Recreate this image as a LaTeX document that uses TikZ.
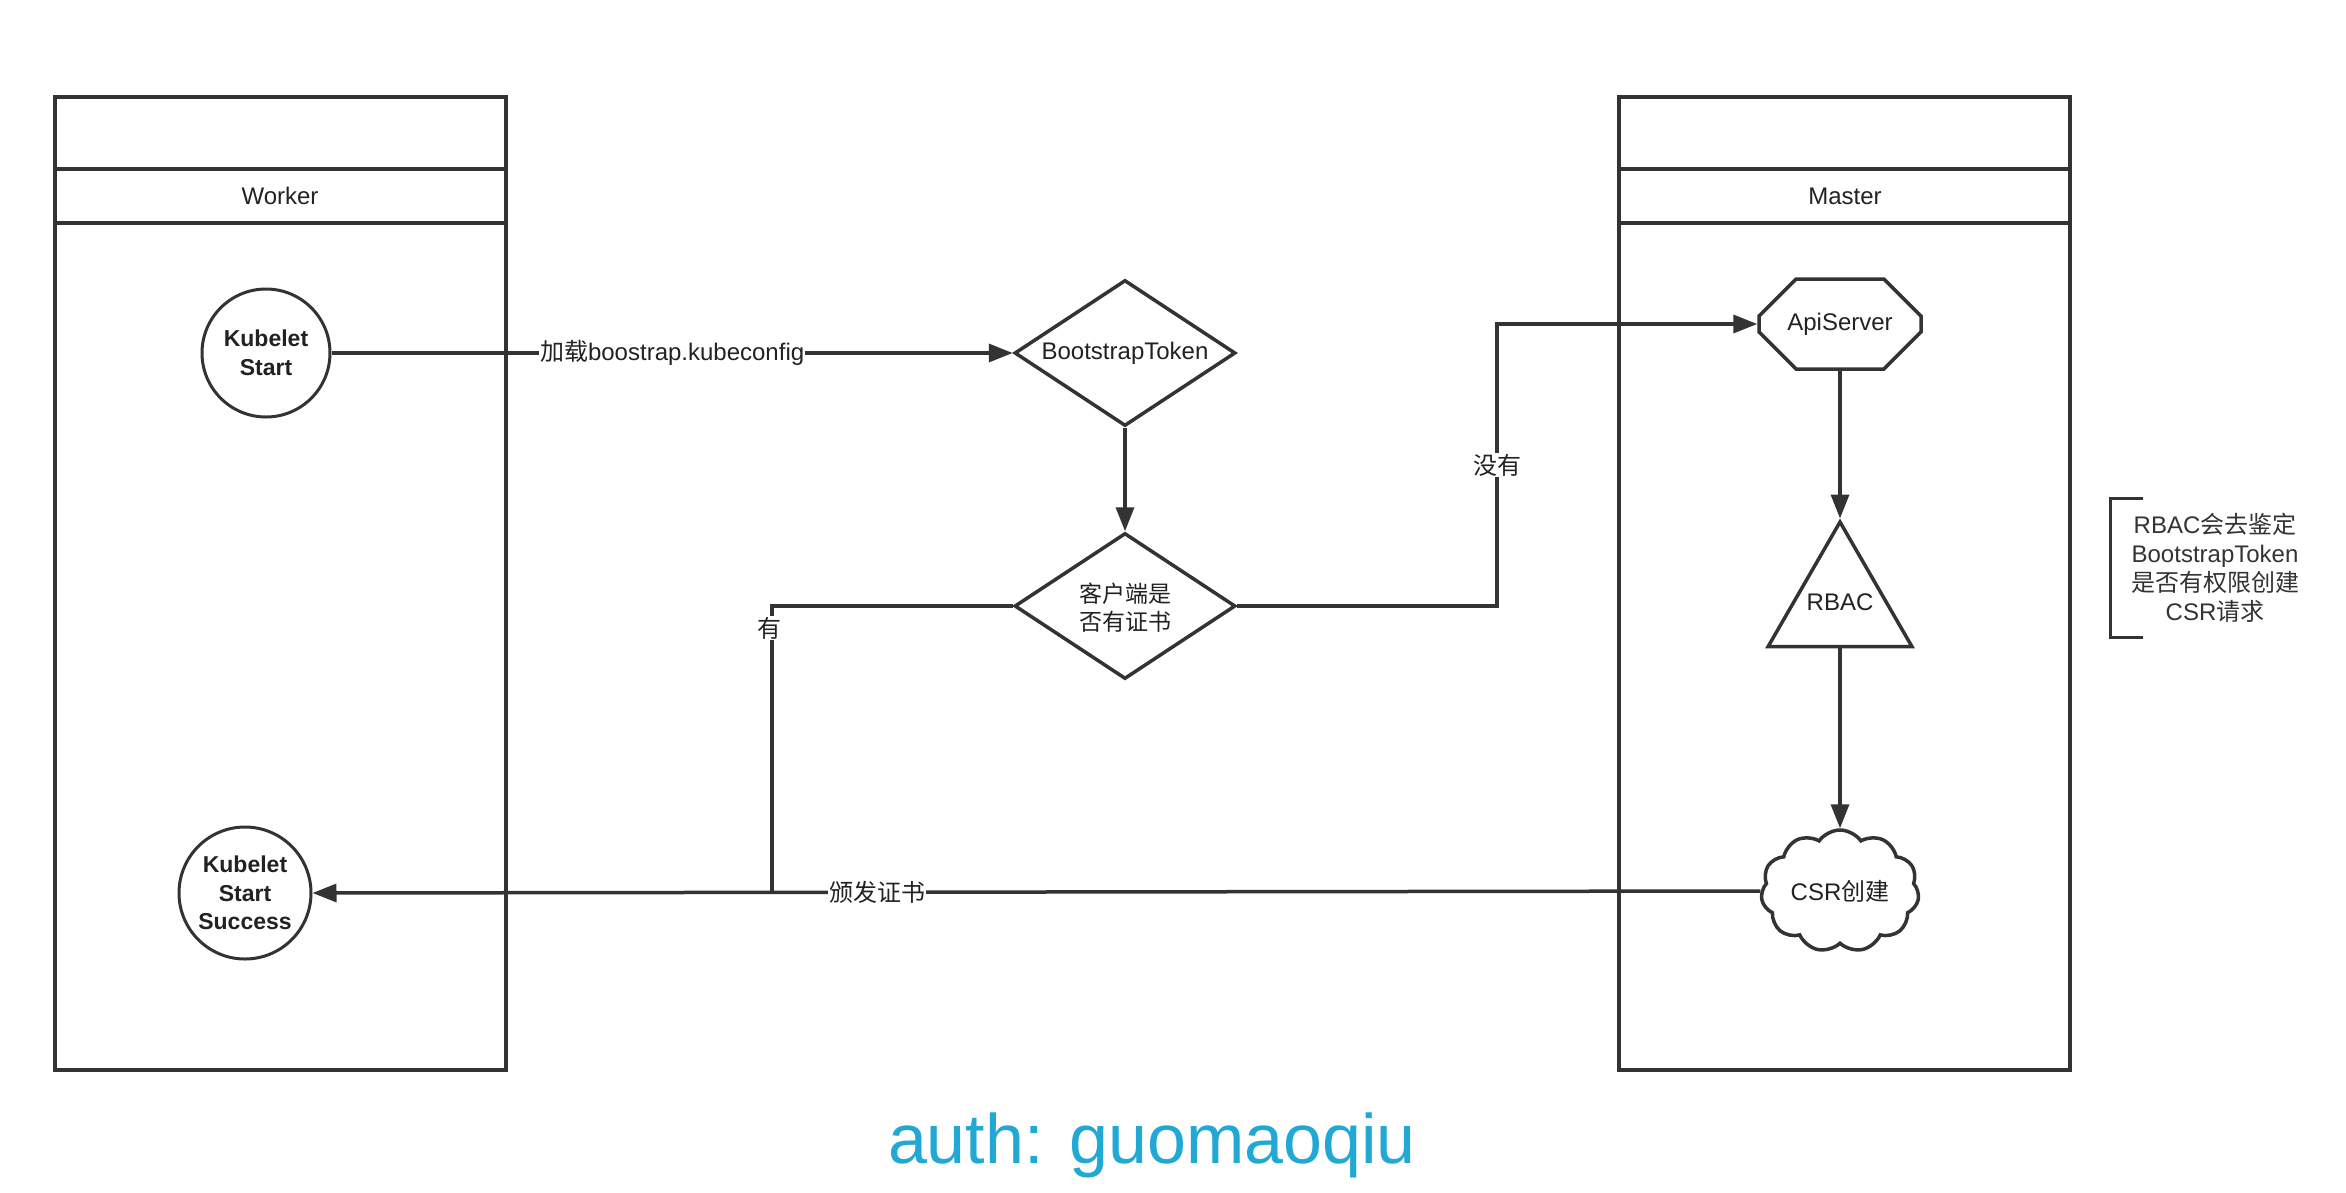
\documentclass[tikz,border=0pt]{standalone}
\usepackage{fontspec}
\setmainfont{Liberation Sans}
\newfontfamily\cjk{Noto Sans CJK SC}
\usetikzlibrary{shapes.geometric,shapes.misc,shapes.symbols,arrows.meta}
\definecolor{ink}{HTML}{333333}
\definecolor{txt}{HTML}{222222}
\definecolor{authc}{HTML}{22A8D5}
\begin{document}
\begin{tikzpicture}[x=1pt,y=-1pt,
  every node/.style={font=\fontsize{24}{28.5}\selectfont, text=txt},
  lanebox/.style={draw=ink, line width=4pt},
  conn/.style={draw=ink, line width=3.5pt},
  arr/.style={conn, -{Triangle[length=24pt,width=18pt]}},
  lbl/.style={fill=white, inner sep=1pt},
  startnode/.style={circle, draw=ink, line width=3pt, minimum size=128pt, inner sep=0pt, align=center,
     font=\fontsize{23}{28.5}\selectfont\bfseries},
  decision/.style={diamond, draw=ink, line width=3.5pt, minimum width=221pt, minimum height=146pt, inner sep=0pt, align=center},
]
\path[use as bounding box, fill=white] (0,0) rectangle (2346,1192);

% lanes
\node[lanebox, rectangle, minimum width=451pt, minimum height=973pt, inner sep=0pt] (worker) at (280.5,583.5) {};
\draw[lanebox] (55,169) -- (506,169) (55,223) -- (506,223);
\node (workerlbl) at (280,196) {Worker};
\node[lanebox, rectangle, minimum width=451pt, minimum height=973pt, inner sep=0pt] (master) at (1844.5,583.5) {};
\draw[lanebox] (1619,169) -- (2070,169) (1619,223) -- (2070,223);
\node (masterlbl) at (1845,196) {Master};

% nodes
\node[startnode] (ks) at (266,353) {Kubelet\\Start};
\node[startnode, minimum size=132pt] (kss) at (245,893) {Kubelet\\Start\\Success};
\node[decision] (bt) at (1125,353) {};
\node (btlbl) at (1125,353) {BootstrapToken};
\node[decision] (cd) at (1125,606) {};
\node[align=center, font=\fontsize{23}{28}\selectfont\cjk] (cdlbl) at (1125,608) {客户端是\\否有证书};
\node[chamfered rectangle, chamfered rectangle xsep=26pt, chamfered rectangle ysep=26pt,
      draw=ink, line width=3.5pt, minimum width=162pt, minimum height=90pt, inner sep=0pt] (api) at (1840,324) {ApiServer};
\node[regular polygon, regular polygon sides=3, draw=ink, line width=3.5pt, minimum size=166pt, inner sep=0pt] (rbac) at (1840,605) {};
\node (rbaclbl) at (1840,602) {RBAC};
\node[cloud, cloud ignores aspect, cloud puffs=11, cloud puff arc=110, draw=ink, line width=3.5pt, minimum width=158pt, minimum height=122pt, inner sep=0pt] (csr) at (1840,891) {};
\node (csrlbl) at (1840,891) {CSR{\cjk 创建}};

% connectors
\draw[arr] (ks.east) -- (bt.west) node[lbl, pos=0.5] {{\cjk 加载}boostrap.kubeconfig};
\draw[arr] (bt.south) -- (cd.north);
\coordinate (nb) at (1497,465);
\draw[arr] (cd.east) -| (nb) |- (api.west);
\node[lbl, font=\fontsize{24}{28}\selectfont\cjk] at (nb) {没有};
\draw[arr] (api.south) -- (rbac.corner 1);
\draw[arr] (rbac.south) -- (csr.north);
\coordinate (yj) at (772,893);
\draw[conn] (cd.west) -| (yj);
\node[lbl, font=\fontsize{24}{28}\selectfont\cjk] at (769,628) {有};
\draw[arr] (csr.west) -- (kss.east) node[lbl, pos=0.61, font=\fontsize{24}{28}\selectfont\cjk] {颁发证书};

% side note
\draw[ink, line width=3pt] (2143,498) -- (2110,498) -- (2110,637) -- (2143,637);
\node[align=center, text=ink, font=\fontsize{24}{28.8}\selectfont] (note) at (2215,568)
  {RBAC{\cjk 会去鉴定}\\BootstrapToken\\{\cjk 是否有权限创建}\\CSR{\cjk 请求}};

% author
\node[text=authc, font=\fontsize{70}{80}\selectfont] (auth) at (1152,1145) {auth: guomaoqiu};
\end{tikzpicture}
\end{document}
